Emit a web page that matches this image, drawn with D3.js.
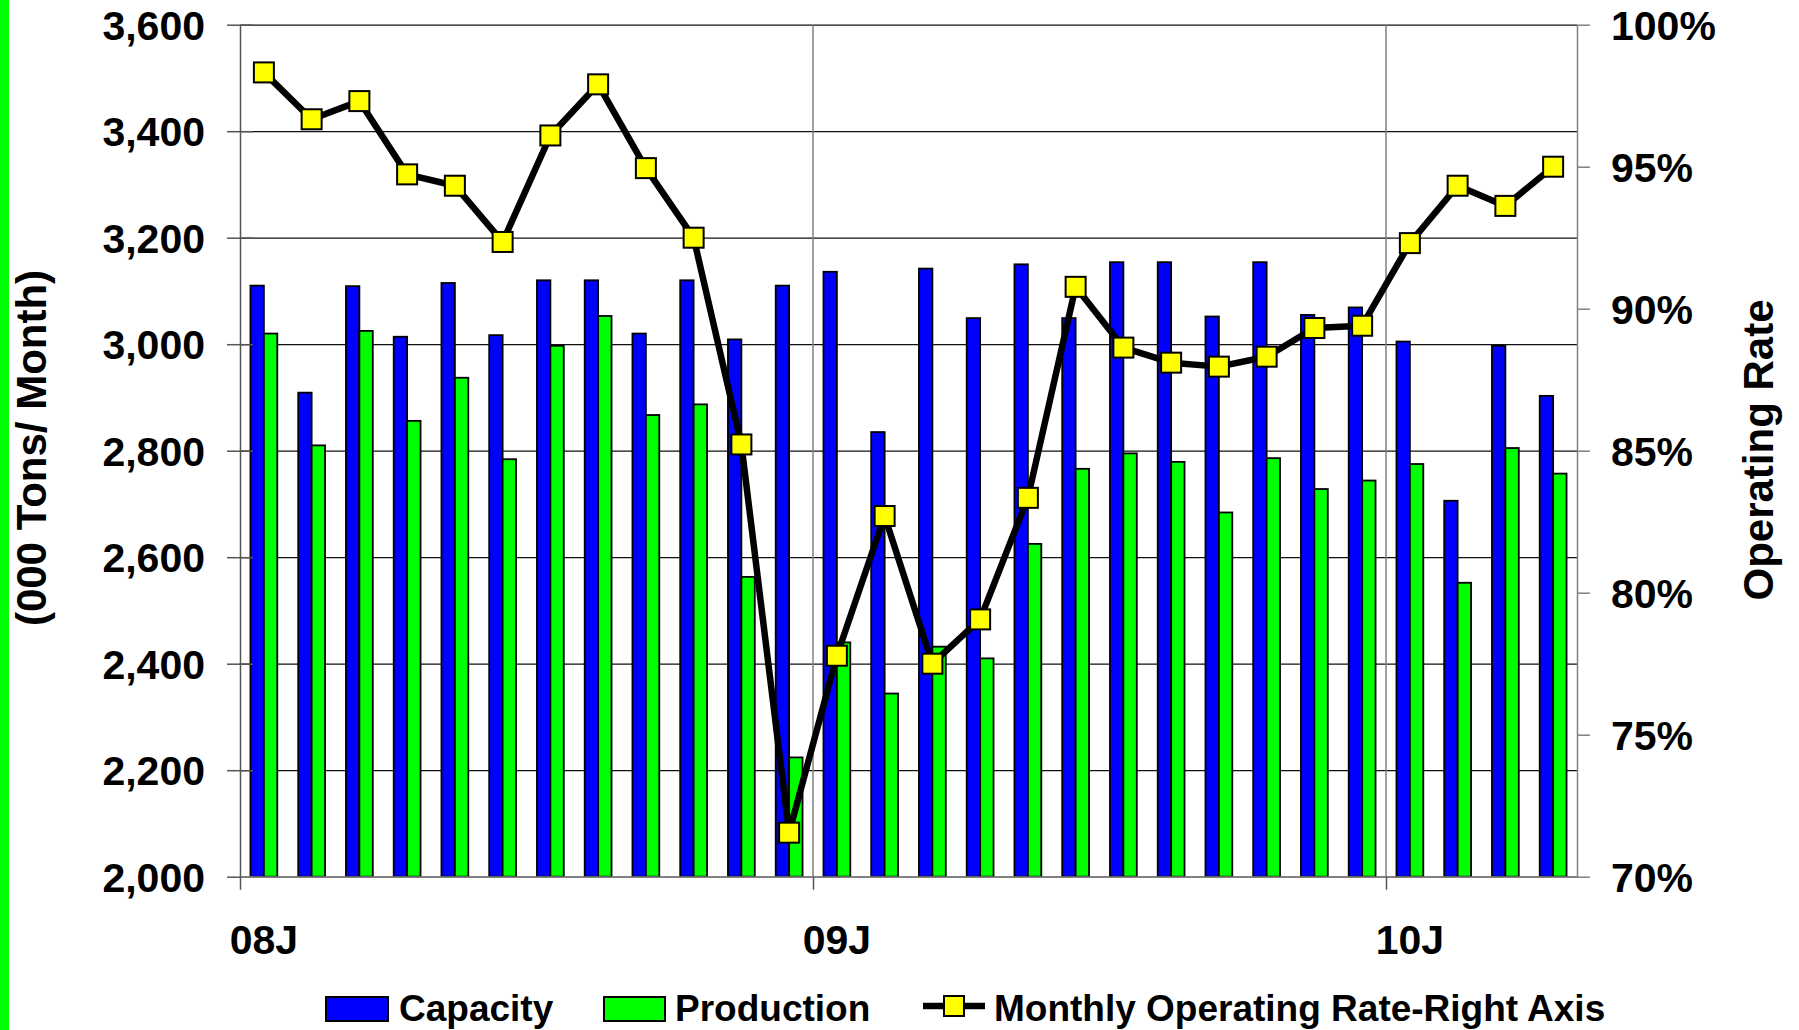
<!DOCTYPE html>
<html>
<head>
<meta charset="utf-8">
<script src="https://cdn.jsdelivr.net/npm/d3@7/dist/d3.min.js"></script>
<style>
  body { margin: 0; background: #fff; }
  svg text { font-family: "Liberation Sans", Arial, sans-serif; font-weight: bold; fill: #000; }
</style>
</head>
<body>
<div id="chart"></div>
<script>
const months = [
  "Jan-08", "Feb-08", "Mar-08", "Apr-08", "May-08", "Jun-08", "Jul-08", "Aug-08", "Sep-08", "Oct-08", "Nov-08", "Dec-08",
  "Jan-09", "Feb-09", "Mar-09", "Apr-09", "May-09", "Jun-09", "Jul-09", "Aug-09", "Sep-09", "Oct-09", "Nov-09", "Dec-09",
  "Jan-10", "Feb-10", "Mar-10", "Apr-10"
];
const capacity = [
  3110, 2909, 3109, 3014, 3115, 3017, 3120, 3120, 3020, 3120, 3009, 3110,
  3136, 2835, 3142, 3049, 3150, 3049, 3154, 3154, 3052, 3154, 3055, 3069,
  3005, 2706, 2997, 2903
];
const production = [
  3020, 2810, 3025, 2856, 2937, 2784, 2997, 3053, 2867, 2887, 2563, 2224,
  2440, 2344, 2432, 2410, 2625, 2766, 2795, 2779, 2684, 2786, 2728, 2744,
  2775, 2552, 2805, 2757
];
const operatingRate = [
  98.32, 96.67, 97.31, 94.73, 94.33, 92.35, 96.1, 97.9, 94.95, 92.5, 85.22, 71.55,
  77.78, 82.7, 77.5, 79.06, 83.34, 90.77, 88.63, 88.1, 87.96, 88.31, 89.32, 89.4,
  92.31, 94.33, 93.62, 95.0
];
const leftTicks = [2000, 2200, 2400, 2600, 2800, 3000, 3200, 3400, 3600];
const rightTicks = [0.70, 0.75, 0.80, 0.85, 0.90, 0.95, 1.00];
const yearStarts = ["Jan-08", "Jan-09", "Jan-10"];
const yearLabels = ["08J", "09J", "10J"];
const seriesNames = ["Capacity", "Production"];

const drawChart = () => {
  const size = { width: 1799, height: 1030 };
  const margin = { left: 240, right: 222, top: 24.7, bottom: 153.3 };
  const width = size.width - margin.left - margin.right;
  const height = size.height - margin.top - margin.bottom;

  const svg = d3.select("#chart")
    .append("svg")
    .attr("width", size.width)
    .attr("height", size.height);

  svg.append("rect")
    .attr("width", size.width)
    .attr("height", size.height)
    .attr("fill", "#fff");

  // green strip on the left edge of the slide
  svg.append("rect")
    .attr("x", 0)
    .attr("y", 0)
    .attr("width", 9)
    .attr("height", size.height)
    .attr("fill", "#00ff00");

  const g = svg.append("g")
    .attr("transform", `translate(${margin.left},${margin.top})`);

  const x = d3.scaleBand().domain(months).range([0, width]);
  const xi = d3.scaleLinear().domain([0, months.length]).range([0, width]);
  const x1 = d3.scaleBand()
    .domain(seriesNames)
    .range([0, x.bandwidth()])
    .paddingOuter(0.78);
  const y = d3.scaleLinear().domain([2000, 3600]).range([height, 0]);
  const y2 = d3.scaleLinear().domain([0.70, 1.00]).range([height, 0]);

  // horizontal gridlines
  g.append("g")
    .attr("class", "grid")
    .call(d3.axisLeft(y).tickValues(leftTicks).tickSize(-width).tickFormat(""))
    .call(s => s.select(".domain").remove())
    .call(s => s.selectAll("line").attr("stroke", "#111").attr("stroke-width", 1.2));

  // vertical year gridlines
  g.append("g")
    .selectAll("line")
    .data(yearStarts.slice(1))
    .join("line")
    .attr("x1", d => xi(months.indexOf(d)))
    .attr("x2", d => xi(months.indexOf(d)))
    .attr("y1", 0)
    .attr("y2", height)
    .attr("stroke", "#808080")
    .attr("stroke-width", 1.5);

  // bars
  const seriesValues = { Capacity: capacity, Production: production };
  const colors = { Capacity: "#0000ff", Production: "#00ff00" };
  seriesNames.forEach(name => {
    g.append("g")
      .selectAll("rect")
      .data(months)
      .join("rect")
      .attr("x", (m) => x(m) + x1(name))
      .attr("y", (m, i) => y(seriesValues[name][i]))
      .attr("width", x1.bandwidth())
      .attr("height", (m, i) => y(2000) - y(seriesValues[name][i]))
      .attr("fill", colors[name])
      .attr("stroke", "#000")
      .attr("stroke-width", 1.8);
  });

  // left axis
  g.append("g")
    .attr("class", "y-axis")
    .call(d3.axisLeft(y).tickValues(leftTicks).tickSize(13).tickSizeOuter(0).tickPadding(22).tickFormat(d3.format(",")))
    .call(s => s.select(".domain").attr("stroke", "#555").attr("stroke-width", 1.5))
    .call(s => s.selectAll("line").attr("stroke", "#555").attr("stroke-width", 1.5))
    .call(s => s.selectAll("text").attr("font-size", 41).attr("dy", "0.36em"));
  g.append("g")
    .call(d3.axisRight(y).tickValues(leftTicks).tickSize(13).tickFormat(""))
    .call(s => s.select(".domain").remove())
    .call(s => s.selectAll("line").attr("stroke", "#555").attr("stroke-width", 1.5));

  // right axis
  g.append("g")
    .attr("class", "y2-axis")
    .attr("transform", `translate(${width},0)`)
    .call(d3.axisRight(y2).tickValues(rightTicks).tickSize(13).tickSizeOuter(0).tickPadding(21).tickFormat(d3.format(".0%")))
    .call(s => s.select(".domain").attr("stroke", "#808080").attr("stroke-width", 1.5))
    .call(s => s.selectAll("line").attr("stroke", "#808080").attr("stroke-width", 1.5))
    .call(s => s.selectAll("text").attr("font-size", 41).attr("dy", "0.36em"));

  // x axis: baseline and year ticks
  g.append("g")
    .attr("transform", `translate(0,${height})`)
    .call(d3.axisBottom(xi).tickValues(yearStarts.map(d => months.indexOf(d))).tickSize(13).tickSizeOuter(0).tickFormat(""))
    .call(s => s.select(".domain").attr("stroke", "#808080").attr("stroke-width", 1.8))
    .call(s => s.selectAll("line").attr("stroke", "#555").attr("stroke-width", 1.5));

  g.append("g")
    .attr("class", "x-axis")
    .attr("transform", `translate(0,${height})`)
    .call(d3.axisBottom(x).tickValues(yearStarts).tickSize(0).tickPadding(48)
      .tickFormat(d => yearLabels[yearStarts.indexOf(d)]))
    .call(s => s.select(".domain").remove())
    .call(s => s.selectAll("text").attr("font-size", 41));

  // operating rate line
  const line = d3.line()
    .x((d, i) => x(months[i]) + x.bandwidth() / 2)
    .y(d => y2(d / 100));
  g.append("path")
    .datum(operatingRate)
    .attr("d", line)
    .attr("fill", "none")
    .attr("stroke", "#000")
    .attr("stroke-width", 6.5)
    .attr("stroke-linejoin", "round");

  const mk = 20;
  g.append("g")
    .selectAll("rect")
    .data(operatingRate)
    .join("rect")
    .attr("x", (d, i) => x(months[i]) + x.bandwidth() / 2 - mk / 2)
    .attr("y", d => y2(d / 100) - mk / 2)
    .attr("width", mk)
    .attr("height", mk)
    .attr("fill", "#ffff00")
    .attr("stroke", "#000")
    .attr("stroke-width", 2);

  // axis titles
  svg.append("text")
    .attr("transform", "translate(46,448) rotate(-90)")
    .attr("text-anchor", "middle")
    .attr("font-size", 42)
    .text("(000 Tons/ Month)");
  svg.append("text")
    .attr("transform", "translate(1773,450) rotate(-90)")
    .attr("text-anchor", "middle")
    .attr("font-size", 42)
    .text("Operating Rate");

  // legend
  const legend = svg.append("g").attr("transform", "translate(0,1021)");
  const capItem = legend.append("g").attr("transform", "translate(326,0)");
  capItem.append("rect").attr("x", 0).attr("y", -24).attr("width", 62).attr("height", 24)
    .attr("fill", colors.Capacity).attr("stroke", "#000").attr("stroke-width", 2);
  capItem.append("text").attr("x", 73).attr("font-size", 37).text("Capacity");

  const prodItem = legend.append("g").attr("transform", "translate(604,0)");
  prodItem.append("rect").attr("x", 0).attr("y", -24).attr("width", 61).attr("height", 24)
    .attr("fill", colors.Production).attr("stroke", "#000").attr("stroke-width", 2);
  prodItem.append("text").attr("x", 71).attr("font-size", 37).text("Production");

  const rateItem = legend.append("g").attr("transform", "translate(923,0)");
  rateItem.append("line").attr("x1", 0).attr("x2", 62).attr("y1", -15).attr("y2", -15)
    .attr("stroke", "#000").attr("stroke-width", 6.5);
  rateItem.append("rect").attr("x", 21).attr("y", -25).attr("width", 20).attr("height", 20)
    .attr("fill", "#ffff00").attr("stroke", "#000").attr("stroke-width", 2);
  rateItem.append("text").attr("x", 71).attr("font-size", 37).text("Monthly Operating Rate-Right Axis");
};

drawChart();
</script>
</body>
</html>
